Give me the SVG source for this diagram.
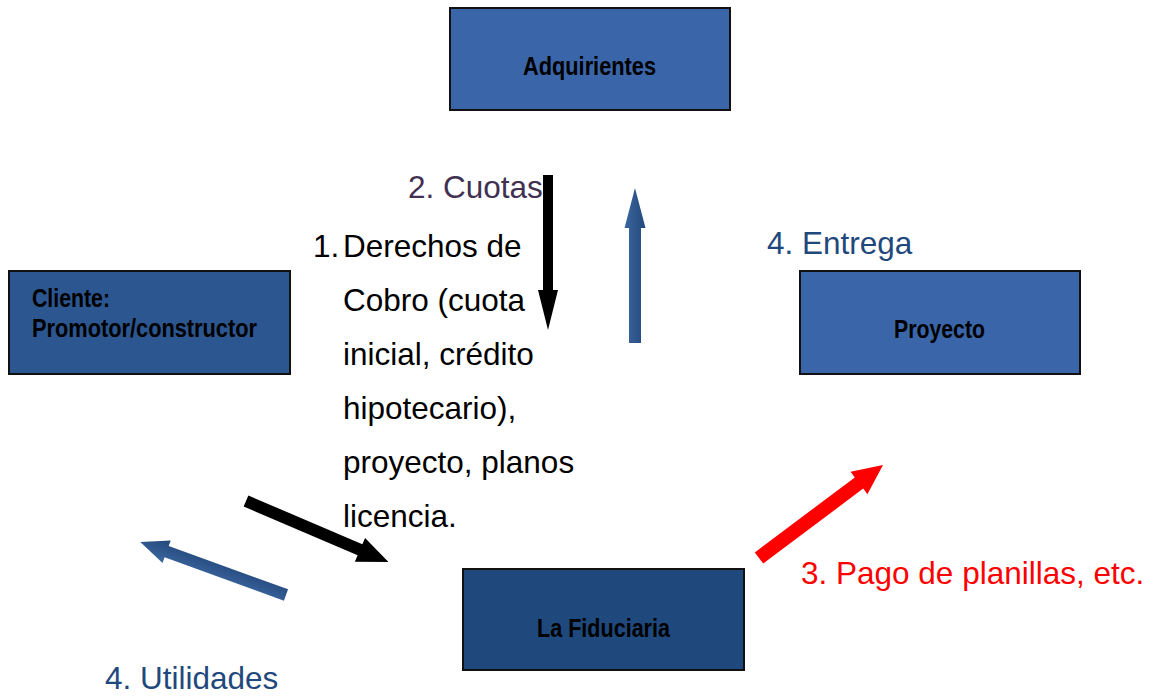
<svg xmlns="http://www.w3.org/2000/svg" width="1154" height="697" viewBox="0 0 1154 697">
  <style>
    .box { stroke: #111; stroke-width: 2; }
    .lbl { font-family: "Liberation Sans", Arial, sans-serif; font-weight: bold; font-size: 26px; fill: #000; }
    .txt { font-family: "Liberation Sans", Arial, sans-serif; font-size: 31.5px; }
  </style>
  <defs>
    <linearGradient id="blueShaftD" x1="0" y1="0" x2="0" y2="1">
      <stop offset="0" stop-color="#3b66a0"/>
      <stop offset="1" stop-color="#23487a"/>
    </linearGradient>
  </defs>

  <g id="node-adquirientes">
    <rect class="box" x="450" y="8" width="280" height="102" fill="#3a66a9"/>
    <text class="lbl" x="523" y="75" textLength="133" lengthAdjust="spacingAndGlyphs">Adquirientes</text>
  </g>
  <g id="node-cliente">
    <rect class="box" x="9" y="271" width="281" height="103" fill="#2c5690"/>
    <text class="lbl" x="32" y="307" textLength="78" lengthAdjust="spacingAndGlyphs">Cliente:</text>
    <text class="lbl" x="32" y="337" textLength="225" lengthAdjust="spacingAndGlyphs">Promotor/constructor</text>
  </g>
  <g id="node-proyecto">
    <rect class="box" x="800" y="271" width="280" height="103" fill="#3a66a9"/>
    <text class="lbl" x="894" y="338" textLength="91" lengthAdjust="spacingAndGlyphs">Proyecto</text>
  </g>
  <g id="node-fiduciaria">
    <rect class="box" x="463" y="569" width="281" height="101" fill="#1f497d"/>
    <text class="lbl" x="537" y="637" textLength="133" lengthAdjust="spacingAndGlyphs">La Fiduciaria</text>
  </g>

  <g id="connectors">
    <polygon fill="#000" points="0,-5 115,-5 115,-10 155,0 115,10 115,5 0,5" transform="translate(548,175) rotate(90)"/>
    <polygon fill="url(#blueShaftD)" points="0,-6 115,-6 115,-10.5 155,0 115,10.5 115,6 0,6" transform="translate(635,343) rotate(-90)"/>
    <polygon fill="#000" points="0,-6 124,-6 124,-13 155,0 124,13 124,6 0,6" transform="translate(246,501) rotate(23.2)"/>
    <polygon fill="url(#blueShaftD)" points="0,-6 127,-6 127,-12 155,0 127,12 127,6 0,6" transform="translate(286,595) rotate(199.95)"/>
    <polygon fill="#ff0000" points="0,-7 125,-7 125,-14 155,0 125,14 125,7 0,7" transform="translate(759,558) rotate(-36.87)"/>
  </g>

  <g id="labels">
    <text class="txt" x="408" y="198" fill="#403152">2. Cuotas</text>
    <text class="txt" x="313" y="257" fill="#000">1.</text>
    <text class="txt" x="343" y="257" fill="#000">Derechos de</text>
    <text class="txt" x="343" y="311" fill="#000">Cobro (cuota</text>
    <text class="txt" x="343" y="365" fill="#000">inicial, crédito</text>
    <text class="txt" x="343" y="419" fill="#000">hipotecario),</text>
    <text class="txt" x="343" y="473" fill="#000">proyecto, planos</text>
    <text class="txt" x="343" y="527" fill="#000">licencia.</text>
    <text class="txt" x="767" y="254" fill="#1f497d">4. Entrega</text>
    <text class="txt" x="801" y="584" fill="#ff0000">3. Pago de planillas, etc.</text>
    <text class="txt" x="105" y="689" fill="#1f497d">4. Utilidades</text>
  </g>
</svg>
